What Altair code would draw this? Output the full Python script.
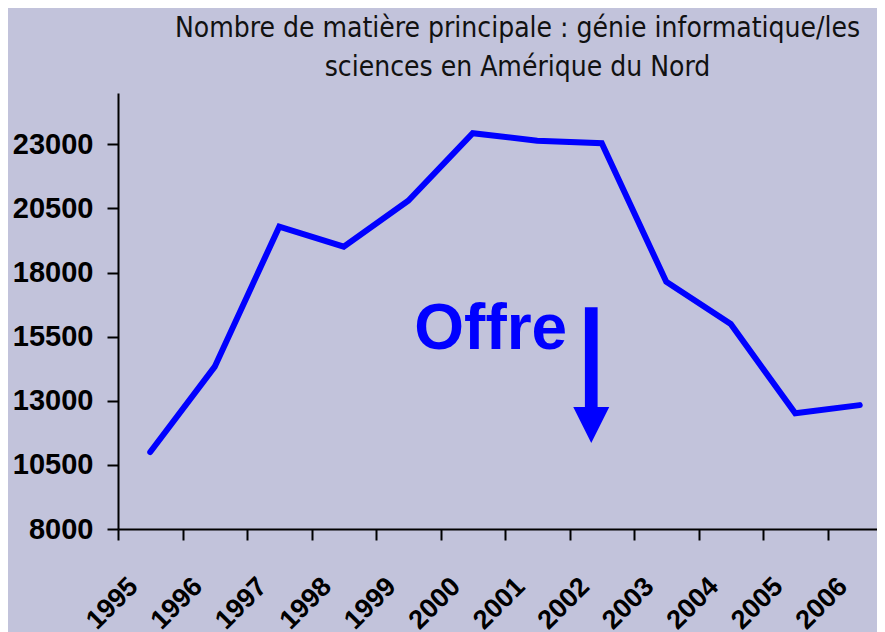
import altair as alt
import pandas as pd

years = ["1995", "1996", "1997", "1998", "1999", "2000",
         "2001", "2002", "2003", "2004", "2005", "2006"]
majors = [11000, 14330, 19790, 19010, 20800, 23430,
          23140, 23040, 17640, 15990, 12510, 12830]

y_ticks = [8000, 10500, 13000, 15500, 18000, 20500, 23000]

title_lines = ["Nombre de matière principale : génie informatique/les",
               "sciences en Amérique du Nord"]

# annotation: "Offre" label and downward arrow (in data coordinates)
note_text = ["Offre"]
note_year = ["2000"]
note_value = [15000]
arrow_year = ["2002"]
arrow_top = [16644]
arrow_bottom = [12600]
arrow_head = [12055]

df = pd.DataFrame({"year": years, "majors": majors})
note_df = pd.DataFrame({"year": note_year, "v": note_value, "t": note_text})
shaft_df = pd.DataFrame({"year": arrow_year, "v": arrow_top, "v2": arrow_bottom})
head_df = pd.DataFrame({"year": arrow_year, "v": arrow_head})

BLUE = "#0000ff"
BG = "#c2c3db"

x_scale = alt.Scale(type="band", domain=years, paddingInner=0, paddingOuter=0,
                    range=[0, 774])

x_enc = alt.X(
    "year:N",
    sort=years,
    bandPosition=0.5,
    scale=x_scale,
    axis=alt.Axis(
        title=None,
        labelAngle=-45,
        labelAlign="right",
        labelBaseline="middle",
        labelFont="Liberation Sans",
        labelFontWeight="bold",
        labelFontSize=27,
        labelColor="#000000",
        labelPadding=42,
        labelOffset=-17,
        tickBand="extent",
        tickSize=11,
        tickWidth=2,
        tickColor="#000000",
        domainColor="#000000",
        domainWidth=2,
        grid=False,
        labelOverlap=False,
    ),
)

y_scale = alt.Scale(domain=[8000, 25000], nice=False, zero=False)

line = alt.Chart(df).mark_line(
    color=BLUE, strokeWidth=6, strokeCap="round", strokeJoin="miter"
).encode(
    x=x_enc,
    y=alt.Y(
        "majors:Q",
        scale=y_scale,
        axis=alt.Axis(
            title=None,
            values=y_ticks,
            format="d",
            labelFont="Liberation Sans",
            labelFontWeight="bold",
            labelFontSize=29,
            labelColor="#000000",
            labelPadding=14,
            tickSize=11,
            tickWidth=2,
            tickColor="#000000",
            domainColor="#000000",
            domainWidth=2,
            grid=False,
        ),
    ),
)

text = alt.Chart(note_df).mark_text(
    color=BLUE, font="Liberation Sans", fontWeight="bold", fontSize=64,
    align="center", baseline="alphabetic", dx=18,
).encode(
    x=alt.X("year:N", sort=years, bandPosition=0.5),
    y=alt.Y("v:Q", scale=y_scale),
    text="t:N",
)

shaft = alt.Chart(shaft_df).mark_rule(
    color=BLUE, strokeWidth=12.7, xOffset=-10.5
).encode(
    x=alt.X("year:N", sort=years, bandPosition=0.5),
    y=alt.Y("v:Q", scale=y_scale),
    y2="v2:Q",
)

head = alt.Chart(head_df).mark_point(
    shape="M-1,-1L1,-1L0,1Z", size=1296, filled=True, color=BLUE,
    opacity=1, strokeWidth=0, xOffset=-10.5,
).encode(
    x=alt.X("year:N", sort=years, bandPosition=0.5),
    y=alt.Y("v:Q", scale=y_scale),
)

chart = alt.layer(line, text, shaft, head).properties(
    width=759,
    height=436,
    background=BG,
    padding={"left": 110, "top": 85, "right": 0, "bottom": 110},
    autosize=alt.AutoSizeParams(type="none"),
    title=alt.TitleParams(
        text=title_lines,
        font="DejaVu Sans Condensed, Liberation Sans, sans-serif",
        fontSize=28,
        fontWeight="normal",
        color="#111111",
        anchor="middle",
        dx=20,
        lineHeight=39,
        offset=11,
    ),
).configure_view(stroke=None)

chart.save("out.html", embed_options={"renderer": "svg", "actions": False})
